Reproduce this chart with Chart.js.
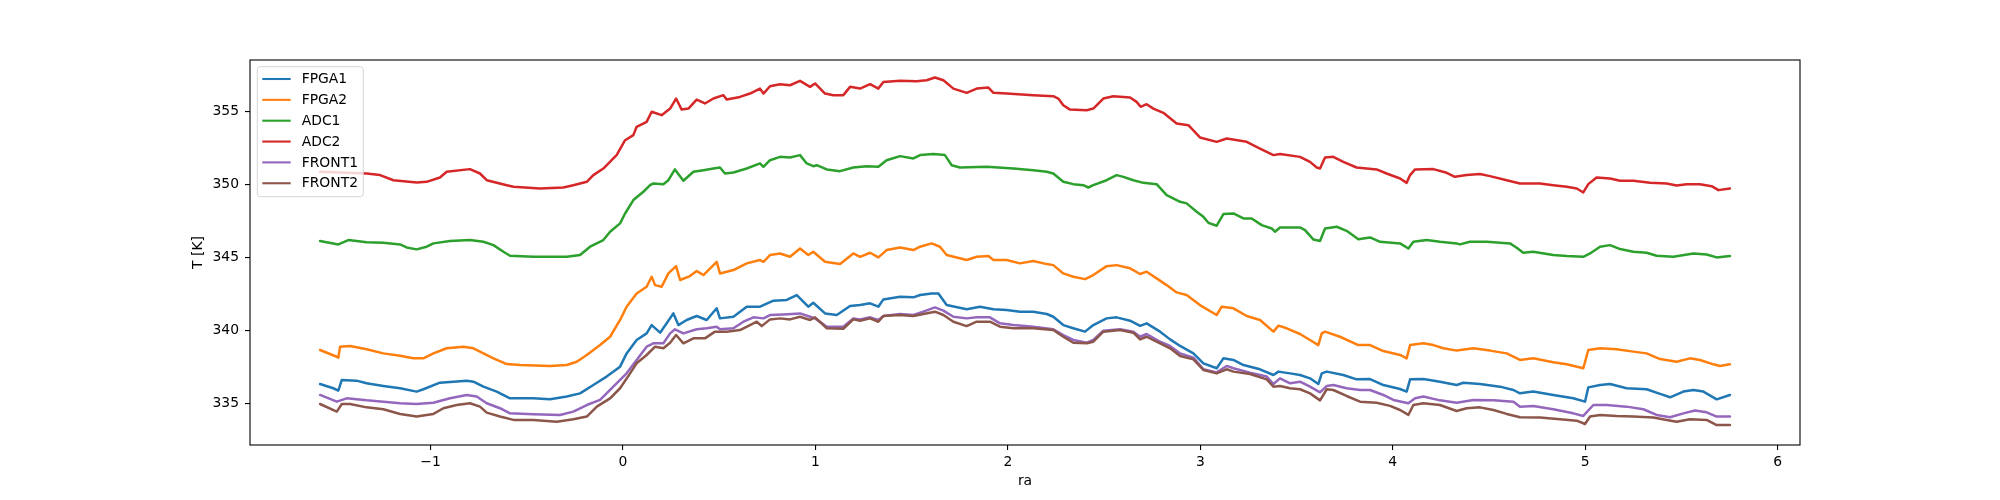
<!DOCTYPE html>
<html><head><meta charset="utf-8">
<script src="https://cdn.jsdelivr.net/npm/chart.js@4"></script>
<style>html,body{margin:0;padding:0;background:#fff}canvas{display:block}</style>
</head><body>
<canvas id="c" width="2000" height="500"></canvas>
<script>
const seriesNames = ['FPGA1', 'FPGA2', 'ADC1', 'ADC2', 'FRONT1', 'FRONT2'];
const seriesColors = ['#1f77b4', '#ff7f0e', '#2ca02c', '#d62728', '#9467bd', '#8c564b'];
const xTicks = [-1, 0, 1, 2, 3, 4, 5, 6];
const yTicks = [335, 340, 345, 350, 355];
const xTitle = 'ra';
const yTitle = 'T [K]';

const raFPGA1 = [-1.574,-1.505,-1.479,-1.461,-1.384,-1.332,-1.245,-1.158,-1.072,-1.037,-0.951,-0.812,-0.777,-0.725,-0.656,-0.587,-0.466,-0.379,-0.292,-0.223,-0.154,-0.085,-0.015,0.019,0.071,0.123,0.149,0.193,0.227,0.262,0.288,0.331,0.383,0.435,0.487,0.504,0.574,0.643,0.712,0.782,0.851,0.903,0.920,0.963,0.989,1.050,1.111,1.180,1.232,1.284,1.327,1.353,1.440,1.509,1.544,1.604,1.639,1.682,1.786,1.855,1.925,1.994,2.063,2.132,2.202,2.236,2.288,2.340,2.401,2.444,2.513,2.565,2.635,2.687,2.721,2.791,2.843,2.895,2.964,3.016,3.085,3.120,3.172,3.224,3.310,3.380,3.406,3.466,3.518,3.570,3.613,3.631,3.657,3.743,3.812,3.882,3.951,4.038,4.072,4.090,4.159,4.245,4.332,4.367,4.453,4.557,4.627,4.661,4.730,4.834,4.938,4.999,5.016,5.077,5.129,5.215,5.319,5.389,5.441,5.510,5.562,5.614,5.683,5.752];
const tFPGA1 = [336.32,336.03,335.87,336.60,336.55,336.37,336.19,336.03,335.80,335.96,336.41,336.55,336.48,336.14,335.80,335.34,335.34,335.27,335.46,335.68,336.25,336.83,337.51,338.42,339.34,339.79,340.36,339.84,340.48,341.16,340.36,340.71,340.98,340.71,341.51,340.82,340.93,341.62,341.62,342.03,342.08,342.42,342.19,341.62,341.89,341.16,341.05,341.67,341.73,341.85,341.62,342.12,342.30,342.26,342.42,342.53,342.53,341.73,341.44,341.62,341.44,341.39,341.28,341.28,341.12,340.93,340.36,340.14,339.91,340.36,340.82,340.89,340.66,340.30,340.48,339.91,339.38,338.93,338.42,337.74,337.40,338.08,337.97,337.62,337.33,336.94,337.17,337.05,336.94,336.71,336.32,337.05,337.17,336.94,336.64,336.66,336.25,335.98,335.80,336.64,336.66,336.48,336.25,336.41,336.32,336.14,335.91,335.68,335.80,335.57,335.34,335.11,336.09,336.25,336.32,336.03,335.96,335.64,335.41,335.80,335.91,335.80,335.27,335.57];

const raFPGA2 = [-1.574,-1.487,-1.479,-1.470,-1.418,-1.332,-1.245,-1.158,-1.089,-1.037,-0.985,-0.916,-0.829,-0.777,-0.725,-0.673,-0.604,-0.535,-0.379,-0.292,-0.240,-0.188,-0.119,-0.067,-0.015,0.019,0.071,0.123,0.149,0.167,0.201,0.236,0.276,0.297,0.348,0.383,0.418,0.487,0.504,0.574,0.643,0.712,0.730,0.764,0.816,0.868,0.920,0.963,0.989,1.050,1.128,1.197,1.232,1.284,1.327,1.370,1.440,1.509,1.544,1.604,1.647,1.682,1.786,1.838,1.899,1.925,1.994,2.063,2.132,2.202,2.236,2.288,2.340,2.401,2.444,2.513,2.565,2.635,2.687,2.721,2.773,2.825,2.877,2.929,2.998,3.085,3.111,3.172,3.241,3.310,3.380,3.406,3.449,3.518,3.570,3.613,3.631,3.648,3.726,3.821,3.882,3.951,4.038,4.072,4.090,4.159,4.211,4.263,4.332,4.419,4.505,4.592,4.661,4.730,4.834,4.904,4.990,5.016,5.077,5.163,5.250,5.319,5.389,5.475,5.544,5.596,5.666,5.700,5.752];
const tFPGA2 = [338.65,338.19,338.13,338.88,338.93,338.70,338.42,338.26,338.08,338.08,338.42,338.77,338.88,338.77,338.42,338.08,337.69,337.62,337.56,337.62,337.85,338.31,338.99,339.56,340.71,341.62,342.53,342.99,343.67,343.10,342.99,343.90,344.40,343.45,343.72,344.06,343.79,344.70,343.90,344.13,344.59,344.82,344.70,345.16,345.27,345.04,345.61,345.16,345.39,344.70,344.54,345.27,345.04,345.32,345.00,345.50,345.68,345.50,345.73,345.96,345.73,345.16,344.82,345.04,345.09,344.82,344.82,344.59,344.75,344.54,344.47,343.90,343.67,343.51,343.79,344.40,344.47,344.25,343.86,344.02,343.56,343.10,342.60,342.42,341.73,341.05,341.62,341.51,340.98,340.71,339.91,340.32,340.14,339.75,339.34,338.99,339.79,339.91,339.56,338.99,338.99,338.58,338.31,338.08,338.99,339.11,338.99,338.77,338.61,338.77,338.61,338.42,337.97,338.08,337.81,337.67,337.40,338.65,338.77,338.70,338.54,338.42,338.03,337.85,338.08,337.97,337.67,337.56,337.67];

const raADC1 = [-1.574,-1.479,-1.427,-1.332,-1.245,-1.158,-1.124,-1.072,-1.020,-0.985,-0.899,-0.795,-0.725,-0.673,-0.621,-0.587,-0.466,-0.292,-0.223,-0.171,-0.102,-0.067,-0.015,0.011,0.054,0.106,0.141,0.158,0.210,0.236,0.270,0.314,0.366,0.418,0.470,0.504,0.530,0.574,0.643,0.712,0.730,0.764,0.816,0.868,0.920,0.955,0.989,1.007,1.059,1.128,1.197,1.266,1.327,1.370,1.440,1.509,1.544,1.613,1.673,1.708,1.751,1.890,2.029,2.132,2.202,2.236,2.288,2.340,2.392,2.418,2.444,2.513,2.565,2.600,2.652,2.704,2.773,2.825,2.895,2.929,2.981,3.016,3.042,3.085,3.120,3.172,3.224,3.267,3.319,3.371,3.388,3.414,3.518,3.544,3.587,3.622,3.648,3.709,3.760,3.821,3.882,3.934,4.038,4.081,4.107,4.176,4.245,4.332,4.349,4.401,4.488,4.609,4.644,4.678,4.730,4.834,4.904,4.990,5.025,5.077,5.129,5.181,5.250,5.319,5.371,5.458,5.562,5.631,5.683,5.752];
const tADC1 = [346.12,345.89,346.19,346.03,346.00,345.89,345.68,345.55,345.73,345.96,346.12,346.19,346.07,345.84,345.39,345.11,345.04,345.04,345.16,345.73,346.19,346.76,347.33,348.01,348.93,349.50,349.95,350.07,350.02,350.29,351.03,350.25,350.87,350.98,351.09,351.16,350.75,350.82,351.09,351.44,351.21,351.66,351.89,351.85,352.01,351.44,351.25,351.32,351.03,350.91,351.16,351.25,351.21,351.66,351.94,351.78,352.01,352.08,352.01,351.32,351.16,351.21,351.09,350.98,350.87,350.75,350.18,350.02,349.95,349.79,349.95,350.29,350.64,350.52,350.29,350.11,350.02,349.27,348.81,348.70,348.13,347.78,347.37,347.17,347.97,348.01,347.67,347.67,347.21,346.98,346.76,347.05,347.05,346.87,346.23,346.12,346.98,347.10,346.82,346.25,346.37,346.07,345.96,345.61,346.07,346.19,346.07,345.96,345.89,346.07,346.07,345.96,345.66,345.32,345.39,345.16,345.09,345.04,345.27,345.73,345.84,345.57,345.39,345.32,345.11,345.04,345.27,345.20,345.00,345.09];

const raADC2 = [-1.574,-1.332,-1.262,-1.193,-1.072,-1.020,-0.951,-0.916,-0.795,-0.743,-0.708,-0.604,-0.569,-0.431,-0.310,-0.258,-0.188,-0.154,-0.102,-0.059,-0.033,0.011,0.054,0.071,0.123,0.149,0.201,0.245,0.276,0.305,0.340,0.383,0.426,0.470,0.522,0.539,0.608,0.660,0.712,0.730,0.764,0.816,0.868,0.920,0.972,0.998,1.050,1.093,1.145,1.180,1.232,1.284,1.327,1.353,1.440,1.526,1.578,1.621,1.665,1.717,1.786,1.838,1.899,1.925,1.994,2.132,2.236,2.262,2.288,2.323,2.410,2.444,2.496,2.548,2.635,2.669,2.690,2.721,2.756,2.808,2.877,2.938,2.998,3.085,3.137,3.241,3.310,3.380,3.414,3.518,3.570,3.605,3.622,3.648,3.691,3.743,3.812,3.916,3.968,4.038,4.072,4.090,4.116,4.211,4.280,4.323,4.384,4.453,4.505,4.592,4.661,4.765,4.834,4.904,4.956,4.990,5.016,5.059,5.129,5.181,5.250,5.337,5.423,5.475,5.527,5.596,5.657,5.692,5.752];
const tADC2 = [350.87,350.75,350.64,350.29,350.14,350.18,350.48,350.87,351.05,350.75,350.29,349.95,349.84,349.72,349.79,349.95,350.18,350.64,351.09,351.66,352.01,353.03,353.38,353.95,354.29,354.98,354.75,355.20,355.89,355.13,355.20,355.82,355.55,355.89,356.12,355.82,356.00,356.23,356.57,356.23,356.73,356.87,356.80,357.10,356.69,356.92,356.23,356.12,356.12,356.69,356.57,356.87,356.57,357.03,357.10,357.08,357.14,357.33,357.14,356.57,356.28,356.57,356.64,356.28,356.23,356.12,356.05,355.89,355.43,355.13,355.09,355.20,355.89,356.05,355.96,355.66,355.32,355.50,355.20,354.91,354.18,354.06,353.22,352.92,353.15,352.92,352.46,352.01,352.08,351.89,351.55,351.16,351.09,351.85,351.89,351.55,351.16,351.03,350.75,350.41,350.11,350.64,351.03,351.05,350.80,350.52,350.64,350.71,350.57,350.29,350.07,350.07,349.95,349.84,349.72,349.45,350.02,350.48,350.41,350.25,350.25,350.11,350.07,349.93,350.02,350.02,349.88,349.61,349.72];

const raFRONT1 = [-1.574,-1.487,-1.436,-1.332,-1.245,-1.158,-1.072,-0.985,-0.899,-0.812,-0.760,-0.708,-0.639,-0.587,-0.466,-0.327,-0.258,-0.188,-0.119,-0.050,0.019,0.071,0.123,0.158,0.210,0.245,0.270,0.314,0.383,0.435,0.487,0.504,0.574,0.626,0.678,0.730,0.764,0.833,0.920,0.972,0.998,1.059,1.145,1.197,1.232,1.284,1.327,1.353,1.440,1.509,1.561,1.621,1.665,1.717,1.786,1.838,1.907,1.959,2.029,2.132,2.236,2.288,2.340,2.410,2.444,2.496,2.583,2.652,2.687,2.721,2.791,2.843,2.895,2.964,3.016,3.085,3.137,3.172,3.258,3.345,3.380,3.414,3.466,3.518,3.570,3.622,3.657,3.691,3.760,3.830,3.882,3.951,4.003,4.081,4.116,4.159,4.245,4.332,4.419,4.523,4.627,4.661,4.730,4.834,4.938,4.990,5.042,5.111,5.215,5.302,5.371,5.441,5.510,5.570,5.631,5.683,5.752];
const tFRONT1 = [335.57,335.11,335.34,335.20,335.11,335.00,334.95,335.04,335.34,335.57,335.46,335.00,334.66,334.31,334.25,334.20,334.43,334.88,335.23,336.14,337.05,337.97,338.88,339.11,339.11,339.79,340.07,339.79,340.07,340.14,340.25,340.07,340.14,340.59,340.89,340.82,341.05,341.09,341.16,340.93,340.82,340.25,340.25,340.82,340.75,340.89,340.71,340.98,341.12,341.05,341.28,341.57,341.35,340.93,340.82,340.89,340.89,340.48,340.36,340.25,340.07,339.68,339.34,339.15,339.34,339.97,340.07,339.91,339.56,339.75,339.22,338.93,338.42,338.13,337.33,337.12,337.56,337.40,337.10,336.83,336.32,336.71,336.37,336.48,336.14,335.75,336.19,336.25,336.03,335.91,335.91,335.57,335.23,335.00,335.34,335.46,335.20,335.04,335.23,335.20,335.11,334.77,334.82,334.59,334.31,334.13,334.88,334.88,334.77,334.59,334.20,334.04,334.31,334.50,334.38,334.09,334.09];

const raFRONT2 = [-1.574,-1.487,-1.461,-1.418,-1.332,-1.245,-1.158,-1.072,-0.985,-0.933,-0.864,-0.795,-0.743,-0.708,-0.639,-0.569,-0.466,-0.344,-0.258,-0.188,-0.136,-0.067,-0.015,0.037,0.071,0.123,0.167,0.210,0.245,0.276,0.314,0.366,0.426,0.478,0.539,0.608,0.660,0.695,0.721,0.764,0.816,0.868,0.920,0.972,0.998,1.059,1.145,1.197,1.232,1.284,1.327,1.353,1.440,1.509,1.561,1.621,1.665,1.717,1.786,1.838,1.907,1.959,2.029,2.132,2.236,2.288,2.340,2.410,2.444,2.496,2.583,2.652,2.687,2.721,2.791,2.843,2.895,2.964,3.016,3.085,3.137,3.172,3.258,3.345,3.380,3.414,3.466,3.518,3.570,3.622,3.657,3.691,3.760,3.830,3.916,3.986,4.038,4.081,4.107,4.159,4.245,4.332,4.384,4.453,4.523,4.592,4.661,4.765,4.869,4.956,4.999,5.025,5.077,5.163,5.250,5.354,5.423,5.475,5.544,5.631,5.683,5.752];
const tFRONT2 = [334.95,334.43,334.95,334.95,334.72,334.59,334.27,334.09,334.27,334.66,334.88,335.00,334.77,334.36,334.09,333.86,333.86,333.74,333.90,334.09,334.77,335.34,336.03,337.05,337.74,338.31,338.88,338.77,339.15,339.68,339.11,339.45,339.45,339.91,339.91,340.02,340.36,340.59,340.29,340.75,340.82,340.75,340.93,340.71,340.89,340.14,340.11,340.75,340.66,340.82,340.59,340.98,341.05,340.98,341.12,341.28,341.05,340.59,340.29,340.59,340.59,340.25,340.14,340.14,340.02,339.56,339.15,339.11,339.22,339.91,340.02,339.84,339.38,339.56,339.11,338.77,338.24,338.01,337.28,337.05,337.33,337.17,337.01,336.64,336.14,336.19,336.03,335.96,335.68,335.20,335.96,335.91,335.50,335.11,335.04,334.82,334.54,334.20,334.88,335.00,334.88,334.47,334.66,334.72,334.54,334.27,334.04,334.02,333.90,333.81,333.58,334.09,334.20,334.13,334.09,334.02,333.86,333.74,333.90,333.86,333.51,333.51];

const seriesRa = [raFPGA1, raFPGA2, raADC1, raADC2, raFRONT1, raFRONT2];
const seriesT = [tFPGA1, tFPGA2, tADC1, tADC2, tFRONT1, tFRONT2];

const FONT = {family: "'DejaVu Sans', sans-serif", size: 13.9};
const FONT_CSS = "13.9px 'DejaVu Sans', sans-serif";

const framePlugin = {
  id: 'frame',
  afterDraw(chart) {
    const a = chart.chartArea, ctx = chart.ctx;
    ctx.save();
    ctx.strokeStyle = '#000';
    ctx.lineWidth = 1.1;
    ctx.strokeRect(a.left, a.top, a.right - a.left, a.bottom - a.top);
    ctx.restore();
  }
};

const legendPlugin = {
  id: 'mplLegend',
  afterDatasetsDraw(chart) {
    const ctx = chart.ctx, a = chart.chartArea;
    const x0 = a.left + 7.3, y0 = a.top + 6.7, w = 106, h = 130;
    ctx.save();
    ctx.beginPath();
    ctx.roundRect(x0, y0, w, h, 3);
    ctx.fillStyle = 'rgba(255,255,255,0.8)';
    ctx.fill();
    ctx.strokeStyle = 'rgba(204,204,204,0.8)';
    ctx.lineWidth = 1;
    ctx.stroke();
    ctx.font = FONT_CSS;
    ctx.textBaseline = 'middle';
    ctx.textAlign = 'left';
    chart.data.datasets.forEach((ds, i) => {
      const yy = y0 + 12.3 + i * 20.85;
      ctx.strokeStyle = ds.borderColor;
      ctx.lineWidth = 2.1;
      ctx.beginPath();
      ctx.moveTo(x0 + 5, yy);
      ctx.lineTo(x0 + 33.4, yy);
      ctx.stroke();
      ctx.fillStyle = '#000';
      ctx.fillText(ds.label, x0 + 44.4, yy + 0.5);
    });
    ctx.restore();
  }
};

const fmt = v => (v < 0 ? '\u2212' + Math.abs(v) : String(v));

new Chart(document.getElementById('c').getContext('2d'), {
  type: 'line',
  data: {
    datasets: seriesNames.map((name, i) => ({
      label: name,
      data: seriesRa[i].map((x, j) => ({x: x, y: seriesT[i][j]})),
      borderColor: seriesColors[i],
      backgroundColor: seriesColors[i],
      borderWidth: 2.5,
      borderJoinStyle: 'round',
      borderCapStyle: 'round',
      pointRadius: 0,
      tension: 0,
      fill: false,
      order: seriesNames.length - i
    }))
  },
  options: {
    responsive: false,
    animation: false,
    devicePixelRatio: 1,
    layout: {padding: {left: 150, top: 60, right: 200, bottom: 0}},
    plugins: {legend: {display: false}, tooltip: {enabled: false}},
    scales: {
      x: {
        type: 'linear', min: -1.938, max: 6.116,
        afterBuildTicks: s => { s.ticks = xTicks.map(v => ({value: v})); },
        afterFit: s => { s.height = 55; },
        grid: {display: true, drawOnChartArea: false, drawTicks: true, tickLength: 5, color: '#000', lineWidth: 1.1},
        border: {display: false},
        ticks: {color: '#000', font: FONT, padding: 4, maxRotation: 0, autoSkip: false, callback: v => fmt(v)},
        title: {display: true, text: xTitle, color: '#000', font: FONT, padding: {top: 0, bottom: 10}}
      },
      y: {
        type: 'linear', min: 332.14, max: 358.53,
        afterBuildTicks: s => { s.ticks = yTicks.map(v => ({value: v})); },
        afterFit: s => { s.width = 100; },
        grid: {display: true, drawOnChartArea: false, drawTicks: true, tickLength: 5, color: '#000', lineWidth: 1.1},
        border: {display: false},
        ticks: {color: '#000', font: FONT, padding: 6, autoSkip: false, callback: v => fmt(v)},
        title: {display: true, text: yTitle, color: '#000', font: FONT, padding: {top: 40, bottom: 0}}
      }
    }
  },
  plugins: [framePlugin, legendPlugin]
});
</script>
</body></html>
